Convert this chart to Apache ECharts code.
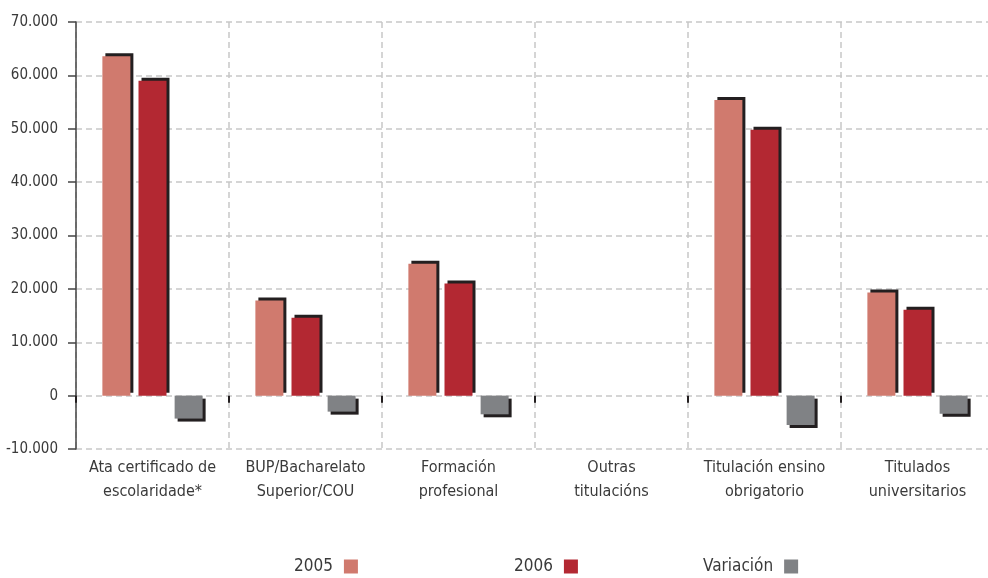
<!DOCTYPE html>
<html>
<head>
<meta charset="utf-8">
<script src="https://cdn.jsdelivr.net/npm/echarts@6/dist/echarts.min.js"></script>
<style>html,body{margin:0;padding:0;background:#fff;}#c{width:988px;height:578px;}</style>
</head>
<body>
<div id="c"></div>
<script>
var categories = ['Ata certificado de\nescolaridade*', 'BUP/Bacharelato\nSuperior/COU', 'Formación\nprofesional', 'Outras\ntitulacións', 'Titulación ensino\nobrigatorio', 'Titulados\nuniversitarios'];
var v2005 = [63600, 17800, 24700, 0, 55400, 19300];
var v2006 = [59000, 14600, 21000, 0, 49800, 16100];
var variation = [-4300, -3000, -3500, 0, -5500, -3400];
var seriesNames = ['2005', '2006', 'Variación'];
var colors = ['#d07a6e', '#b32832', '#808285'];

var FONT = "'Liberation Sans Narrow', 'DejaVu Sans Condensed', sans-serif";
var TXT = '#3a3a3a';

function items(arr) {
  return arr.map(function (v) {
    return { value: v, itemStyle: { shadowOffsetY: v >= 0 ? -3 : 3 } };
  });
}
function fmt(v) {
  if (v === 0) return '0';
  var s = Math.abs(v).toString().replace(/\B(?=(\d{3})+(?!\d))/g, '.');
  return (v < 0 ? '-' : '') + s;
}

var chart = echarts.init(document.getElementById('c'), null, { renderer: 'canvas' });
var dataSets = [v2005, v2006, variation];
var series = dataSets.map(function (d, i) {
  return {
    name: seriesNames[i],
    type: 'bar',
    xAxisIndex: 0,
    barWidth: 28,
    barGap: '29%',
    itemStyle: { color: colors[i], shadowColor: '#231f20', shadowBlur: 0, shadowOffsetX: 3 },
    emphasis: { disabled: true },
    data: items(d)
  };
});

var legendLeft = [294, 514, 703];
var legends = seriesNames.map(function (n, i) {
  return {
    data: [n],
    left: legendLeft[i],
    top: 558,
    align: 'right',
    icon: 'rect',
    itemWidth: 14,
    itemHeight: 14,
    padding: 0,
    selectedMode: false,
    textStyle: { fontFamily: FONT, fontSize: 17, color: TXT, padding: [0, 6, 0, 0] }
  };
});

chart.setOption({
  animation: false,
  color: colors,
  legend: legends,
  grid: { left: 76, right: -6, top: 22, bottom: 129, outerBoundsMode: 'none', containLabel: false },
  xAxis: [{
    type: 'category',
    data: categories,
    position: 'bottom',
    axisLine: { show: false, onZero: false },
    axisTick: { show: false },
    axisLabel: { fontFamily: FONT, fontSize: 16, color: TXT, lineHeight: 24, margin: 7, interval: 0 },
    splitLine: { show: true, lineStyle: { color: '#c8c8c8', type: [6, 4], width: 1.5 } }
  }, {
    type: 'category',
    data: categories,
    position: 'bottom',
    axisLine: { show: false, onZero: true },
    axisTick: { show: true, length: 7, lineStyle: { color: '#231f20', width: 2 } },
    axisLabel: { show: false },
    splitLine: { show: false }
  }],
  yAxis: {
    type: 'value',
    min: -10000,
    max: 70000,
    interval: 10000,
    axisLine: { show: true, lineStyle: { color: '#444', width: 1.5 } },
    axisTick: { show: true, length: 8, lineStyle: { color: '#444', width: 1.5 } },
    axisLabel: { fontFamily: FONT, fontSize: 15, color: TXT, margin: 18, formatter: fmt },
    splitLine: { show: true, lineStyle: { color: '#c8c8c8', type: [6, 4], width: 1.5 } }
  },
  series: series
});
</script>
</body>
</html>
